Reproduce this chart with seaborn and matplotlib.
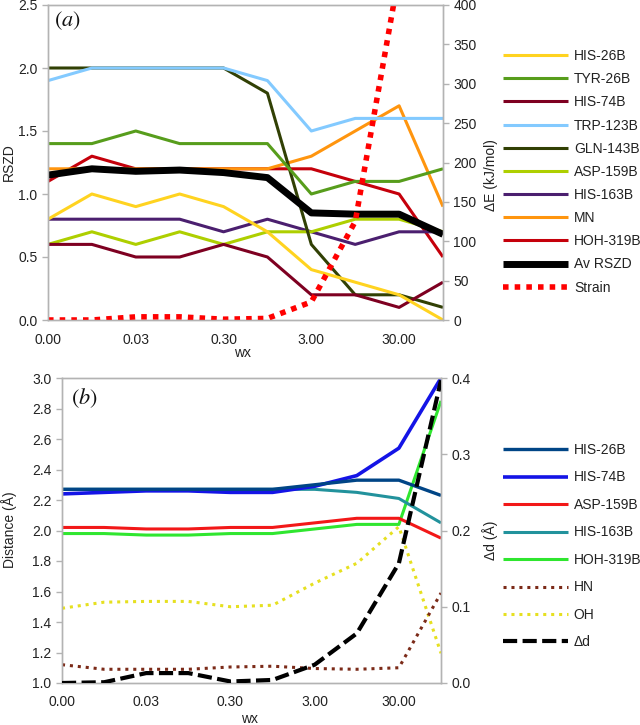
import numpy as np
import pandas as pd
import matplotlib
matplotlib.use("Agg")
import matplotlib.pyplot as plt
import seaborn as sns

# ---------------- data ----------------
wx = ["0.00", "0.01", "0.03", "0.10", "0.30", "1.00", "3.00", "10.00", "30.00", "100.00"]

# panel (a): RSZD (left axis)
his26_a = [0.8, 1.0, 0.9, 1.0, 0.9, 0.7, 0.4, 0.3, 0.2, 0.0]
tyr26_a = [1.4, 1.4, 1.5, 1.4, 1.4, 1.4, 1.0, 1.1, 1.1, 1.2]
his74_a = [0.6, 0.6, 0.5, 0.5, 0.6, 0.5, 0.2, 0.2, 0.1, 0.3]
trp123_a = [1.9, 2.0, 2.0, 2.0, 2.0, 1.9, 1.5, 1.6, 1.6, 1.6]
gln143_a = [2.0, 2.0, 2.0, 2.0, 2.0, 1.8, 0.6, 0.2, 0.2, 0.1]
asp159_a = [0.6, 0.7, 0.6, 0.7, 0.6, 0.7, 0.7, 0.8, 0.8, 0.7]
his163_a = [0.8, 0.8, 0.8, 0.8, 0.7, 0.8, 0.7, 0.6, 0.7, 0.7]
mn_a = [1.2, 1.2, 1.2, 1.2, 1.2, 1.2, 1.3, 1.5, 1.7, 0.9]
hoh319_a = [1.1, 1.3, 1.2, 1.2, 1.2, 1.2, 1.2, 1.1, 1.0, 0.5]
av_rszd = [1.15, 1.2, 1.18, 1.19, 1.17, 1.13, 0.85, 0.84, 0.84, 0.68]
# panel (a): strain energy (right axis, kJ/mol)
strain = [0, 0, 4, 4, 1, 2, 23, 125, 440, 900]

# panel (b): distances (left axis, Angstrom)
his26_b = [2.27, 2.27, 2.27, 2.27, 2.27, 2.27, 2.30, 2.33, 2.33, 2.23]
his74_b = [2.24, 2.25, 2.26, 2.26, 2.25, 2.25, 2.29, 2.36, 2.54, 3.00]
asp159_b = [2.02, 2.02, 2.01, 2.01, 2.02, 2.02, 2.05, 2.08, 2.08, 1.95]
his163_b = [2.27, 2.27, 2.27, 2.27, 2.27, 2.27, 2.27, 2.25, 2.21, 2.05]
hoh319_b = [1.98, 1.98, 1.97, 1.97, 1.98, 1.98, 2.01, 2.04, 2.04, 2.85]
# panel (b): right axis
hn_b = [0.024, 0.018, 0.018, 0.018, 0.021, 0.022, 0.019, 0.018, 0.020, 0.118]
oh_b = [0.098, 0.106, 0.107, 0.107, 0.100, 0.102, 0.131, 0.157, 0.205, 0.039]
dd_b = [0.000, 0.001, 0.013, 0.013, 0.002, 0.004, 0.024, 0.065, 0.157, 0.397]

# ---------------- style ----------------
sns.set_style("white")
plt.rcParams["font.family"] = ["Liberation Sans", "DejaVu Sans"]
plt.rcParams["mathtext.fontset"] = "stix"
TXT = "#222222"
GRID = "#b3b3b3"
FS = 10

fig = plt.figure(figsize=(6.4, 7.25), dpi=100)
W, H = 640.0, 725.0

def px_axes(l, t, r, b):
    return fig.add_axes([l / W, 1 - b / H, (r - l) / W, (b - t) / H])

ax1 = px_axes(48, 5, 443, 320)
ax1r = ax1.twinx()
ax2 = px_axes(62, 378, 441, 683)
ax2r = ax2.twinx()

pos = np.arange(len(wx))

def draw(ax, vals, color, lw, label, dashes=None):
    df = pd.DataFrame({"pos": pos, "val": vals})
    sns.lineplot(data=df, x="pos", y="val", ax=ax, color=color, linewidth=lw,
                 label=label, legend=False)
    ln = ax.lines[-1]
    if dashes is not None:
        ln.set_dashes(dashes)
        ln.set_dash_capstyle("butt")
    ln.set_solid_capstyle("butt")
    return ln

# panel (a)  (drawn in reverse order so that the first series sits on top)
top_series = [
    (his26_a, "#ffd320", 2.2, "HIS-26B"),
    (tyr26_a, "#579d1c", 2.2, "TYR-26B"),
    (his74_a, "#7e0021", 2.2, "HIS-74B"),
    (trp123_a, "#83caff", 2.2, "TRP-123B"),
    (gln143_a, "#314004", 2.2, "GLN-143B"),
    (asp159_a, "#aecf00", 2.2, "ASP-159B"),
    (his163_a, "#4b1f6f", 2.2, "HIS-163B"),
    (mn_a, "#ff950e", 2.2, "MN"),
    (hoh319_a, "#c5000b", 2.2, "HOH-319B"),
    (av_rszd, "#000000", 5.0, "Av RSZD"),
]
h_top = {}
for vals, c, lw, lab in reversed(top_series):
    h_top[lab] = draw(ax1, vals, c, lw, lab)
h_top["Av RSZD"].set_zorder(3)
h_top = [h_top[s[3]] for s in top_series]
h_top.append(draw(ax1r, strain, "#ff0000", 4.0, "Strain", dashes=(1, 1.1)))

# panel (b)
bot_series = [
    (his26_b, "#004586", 2.4, "HIS-26B"),
    (his74_b, "#1414e6", 2.6, "HIS-74B"),
    (asp159_b, "#f21818", 2.2, "ASP-159B"),
    (his163_b, "#22929c", 2.2, "HIS-163B"),
    (hoh319_b, "#2fe62f", 2.2, "HOH-319B"),
]
h_bot = {}
for vals, c, lw, lab in reversed(bot_series):
    h_bot[lab] = draw(ax2, vals, c, lw, lab)
h_bot = [h_bot[s[3]] for s in bot_series]
d_dd = draw(ax2r, dd_b, "#000000", 3.0, "Δd", dashes=(3.4, 1.3))
d_oh = draw(ax2r, oh_b, "#e6e020", 2.2, "OH", dashes=(1, 1.6))
d_hn = draw(ax2r, hn_b, "#7b2a18", 2.2, "HN", dashes=(1, 1.6))
d_dd.set_zorder(3)
h_bot += [d_hn, d_oh, d_dd]

# ---------------- axes formatting ----------------
for ax in (ax1, ax1r, ax2, ax2r):
    ax.set_xlim(0, len(wx) - 1)
    ax.set_xlabel("")
    ax.set_ylabel("")
    for s in ax.spines.values():
        s.set_color(GRID)
        s.set_linewidth(1.0)
        s.set_visible(True)
    ax.tick_params(colors=GRID, labelcolor=TXT, labelsize=FS, length=4, width=1,
                   direction="out")
    ax.grid(False)

for ax in (ax1, ax2):
    ax.set_xticks(pos[::2])
    ax.set_xticklabels(wx[::2])
    ax.tick_params(axis="x", pad=5)
for ax in (ax1r, ax2r):
    ax.tick_params(axis="x", bottom=False, labelbottom=False)

ax1.set_ylim(0, 2.5)
ax1.set_yticks(np.arange(0, 2.51, 0.5))
ax1.set_yticklabels([f"{v:.1f}" for v in np.arange(0, 2.51, 0.5)])
ax1r.set_ylim(0, 400)
ax1r.set_yticks(np.arange(0, 401, 50))
ax1r.set_yticklabels([f"{int(v)}" for v in np.arange(0, 401, 50)])

ax2.set_ylim(1.0, 3.0)
ax2.set_yticks(np.arange(1.0, 3.01, 0.2))
ax2.set_yticklabels([f"{v:.1f}" for v in np.arange(1.0, 3.01, 0.2)])
ax2r.set_ylim(0, 0.4)
ax2r.set_yticks(np.arange(0, 0.41, 0.1))
ax2r.set_yticklabels([f"{v:.1f}" for v in np.arange(0, 0.41, 0.1)])

# ---------------- labels ----------------
def ftext(x, y, s, **kw):
    fig.text(x / W, 1 - y / H, s, **kw)

ftext(243, 353, "wx", ha="center", va="center", fontsize=FS, color=TXT)
ftext(250, 719, "wx", ha="center", va="center", fontsize=FS, color=TXT)
ftext(9, 162, "RSZD", rotation=90, ha="center", va="center", fontsize=FS, color=TXT)
ftext(491, 175, "ΔE (kJ/mol)", rotation=90, ha="center", va="center", fontsize=FS, color=TXT)
ftext(9, 530, "Distance (Å)", rotation=90, ha="center", va="center", fontsize=FS, color=TXT)
ftext(490, 540, "Δd (Å)", rotation=90, ha="center", va="center", fontsize=FS, color=TXT)

ftext(67, 21, r"$(a)$", ha="center", va="center", fontsize=16, color="#111111")
ftext(84, 398, r"$(b)$", ha="center", va="center", fontsize=16, color="#111111")

# ---------------- legends ----------------
fig.legend(h_top, [h.get_label() for h in h_top], loc="upper left",
           bbox_to_anchor=(503 / W, 1 - 49 / H), frameon=False, borderpad=0,
           borderaxespad=0, handlelength=4.7, handletextpad=0.4,
           labelspacing=0.66, fontsize=FS, labelcolor=TXT)
fig.legend(h_bot, [h.get_label() for h in h_bot], loc="upper left",
           bbox_to_anchor=(503 / W, 1 - 443 / H), frameon=False, borderpad=0,
           borderaxespad=0, handlelength=4.7, handletextpad=0.4,
           labelspacing=0.97, fontsize=FS, labelcolor=TXT)

fig.savefig("out.png", dpi=100)
